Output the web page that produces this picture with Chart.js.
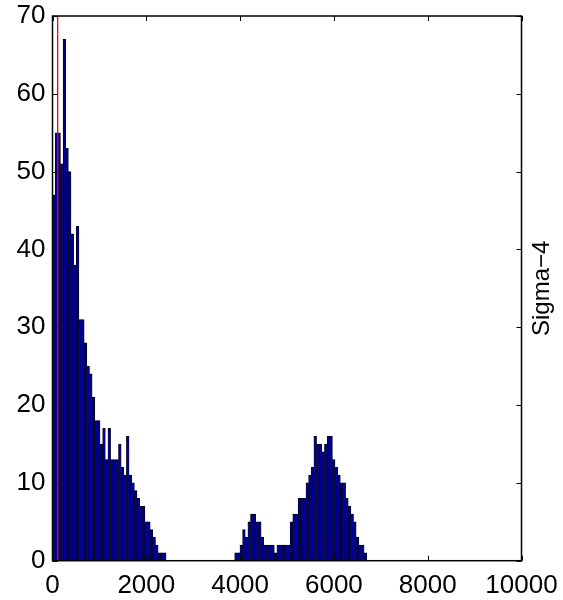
<!DOCTYPE html>
<html><head><meta charset="utf-8">
<script src="https://cdn.jsdelivr.net/npm/chart.js@4.4.0/dist/chart.umd.min.js"></script>
<style>html,body{margin:0;padding:0;background:#fff;}#wrap{width:563px;height:600px;position:relative;}</style>
</head><body><div id="wrap"><canvas id="c" width="563" height="600"></canvas></div>
<script>
// histogram bin width (data units) and bin counts
const binWidth = 56.3;
const countsLow = [47,55,55,51,67,53,50,42,38,43,31,31,28,25,24,21,18,18,15,17,13,17,13,13,13,15,12,11,16,11,10,9,8,7,7,5,5,4,3,2,1,1,1];
const countsGap = [0,0,0,0,0,0,0,0,0,0,0,0,0,0,0,0,0,0,0,0,0,0,0,0,0,0];
const countsHigh = [1,1,2,4,3,5,6,6,5,5,3,2,2,2,2,1,2,2,2,2,2,5,6,6,8,8,8,10,11,12,16,15,15,14,15,16,16,13,12,11,10,10,8,7,6,5,3,2,2,1];
const redLineX = 110;
const xTickValues = [0,2000,4000,6000,8000,10000];
const yTickValues = [0,10,20,30,40,50,60,70];
const sideLabel = 'Sigma\u22124';

const counts = countsLow.concat(countsGap, countsHigh);
const binCenters = counts.map((_, i) => (i + 0.5) * binWidth);
const barData = binCenters.map((x, i) => ({x: x, y: counts[i]}));
const lineData = [{x: redLineX, y: 0}, {x: redLineX, y: 70}];

const FONT = 'Liberation Sans, Arial, Helvetica, sans-serif';

const framePlugin = {
  id: 'frame',
  afterDraw(chart) {
    const ctx = chart.ctx, a = chart.chartArea;
    const xs = chart.scales.x, ys = chart.scales.y;
    ctx.save();
    ctx.strokeStyle = '#000';
    ctx.lineWidth = 1.5;
    ctx.strokeRect(a.left, a.top, a.right - a.left, a.bottom - a.top);
    ctx.lineWidth = 1;
    const tl = 5;
    ctx.beginPath();
    xTickValues.forEach(v => {
      const px = Math.round(xs.getPixelForValue(v)) + 0.5;
      ctx.moveTo(px, a.bottom); ctx.lineTo(px, a.bottom - tl);
      ctx.moveTo(px, a.top); ctx.lineTo(px, a.top + tl);
    });
    yTickValues.forEach(v => {
      const py = Math.round(ys.getPixelForValue(v)) + 0.5;
      ctx.moveTo(a.left, py); ctx.lineTo(a.left + tl, py);
      ctx.moveTo(a.right, py); ctx.lineTo(a.right - tl, py);
    });
    ctx.stroke();
    ctx.translate(a.right + 21, (a.top + a.bottom) / 2);
    ctx.rotate(-Math.PI / 2);
    ctx.fillStyle = '#000';
    ctx.font = '24px ' + FONT;
    ctx.textAlign = 'center';
    ctx.textBaseline = 'middle';
    ctx.fillText(sideLabel, 0, 0);
    ctx.restore();
  }
};

new Chart(document.getElementById('c'), {
  type: 'bar',
  data: {
    datasets: [
      {type: 'line', data: lineData, borderColor: '#ff0000', borderWidth: 1.3, pointRadius: 0, order: 0},
      {type: 'bar', data: barData, backgroundColor: '#00008f', borderColor: '#000',
       borderWidth: {top: 1, left: 0.6, right: 0.6, bottom: 0}, borderSkipped: false,
       barPercentage: 1, categoryPercentage: 1, order: 1}
    ]
  },
  options: {
    responsive: false, animation: false, devicePixelRatio: 1,
    layout: {padding: {top: 16, right: 41.5, left: 0, bottom: 0}},
    plugins: {legend: {display: false}, tooltip: {enabled: false}},
    scales: {
      x: {
        type: 'linear', min: 0, max: 10000, offset: false,
        afterBuildTicks: s => { s.ticks = xTickValues.map(v => ({value: v})); },
        afterFit: s => { s.height = 39.3; s.paddingLeft = 0; s.paddingRight = 0; },
        ticks: {font: {family: FONT, size: 26}, color: '#000', padding: 10, maxRotation: 0, autoSkip: false,
                callback: v => String(v)},
        grid: {display: false, drawTicks: false}, border: {display: false}
      },
      y: {
        type: 'linear', min: 0, max: 70,
        afterBuildTicks: s => { s.ticks = yTickValues.map(v => ({value: v})); },
        afterFit: s => { s.width = 52.5; s.paddingTop = 0; s.paddingBottom = 0; },
        ticks: {font: {family: FONT, size: 26}, color: '#000', padding: 7, callback: v => String(v)},
        grid: {display: false, drawTicks: false}, border: {display: false}
      }
    }
  },
  plugins: [framePlugin]
});
</script>
</body></html>
